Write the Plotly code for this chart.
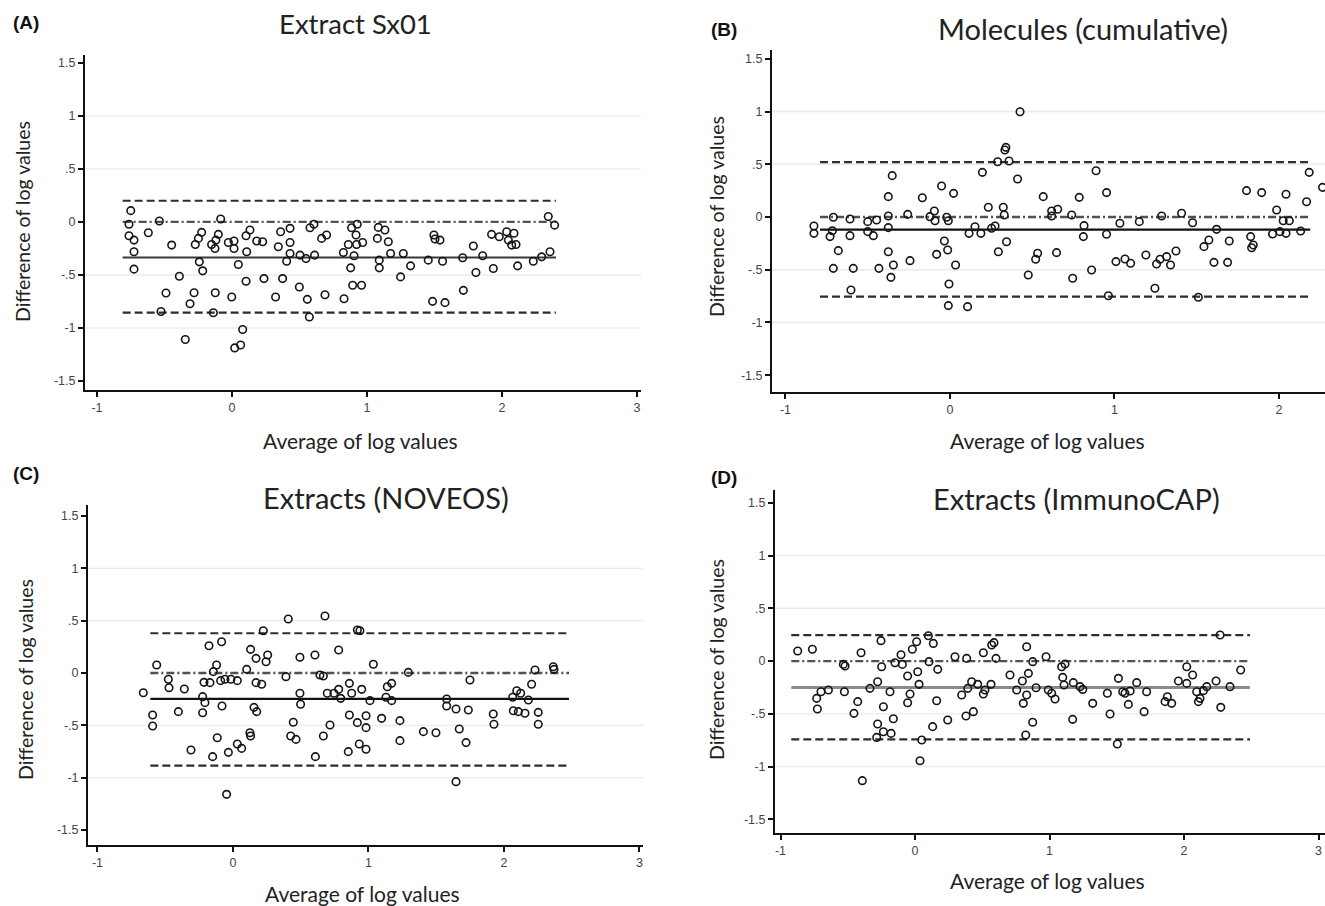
import plotly.graph_objects as go

W, H = 1325, 906

# ---------------- Panel A : Extract Sx01 ----------------
a_avg = [-0.750, -0.763, -0.763, -0.726, -0.726, -0.726, -0.620, -0.538, -0.447, -0.390,
         -0.489, -0.526, -0.346, -0.311, -0.281, -0.272, -0.249, -0.225, -0.242, -0.217,
         -0.151, -0.126, -0.119, -0.101, -0.084, -0.124, -0.138, -0.027, 0.015, 0.015,
         -0.002, 0.047, 0.079, 0.020, 0.064, 0.109, 0.104, 0.104, 0.133, 0.183,
         0.227, 0.237, 0.323, 0.343, 0.360, 0.375, 0.405, 0.430, 0.430, 0.430,
         0.499, 0.504, 0.548, 0.558, 0.573, 0.578, 0.607, 0.612, 0.664, 0.689,
         0.701, 0.825, 0.830, 0.862, 0.879, 0.886, 0.894, 0.904, 0.919, 0.923,
         0.928, 0.960, 0.968, 1.077, 1.084, 1.091, 1.091, 1.133, 1.158, 1.175,
         1.249, 1.269, 1.323, 1.454, 1.486, 1.496, 1.504, 1.541, 1.560, 1.578,
         1.709, 1.714, 1.788, 1.807, 1.857, 1.923, 1.936, 1.980, 2.035, 2.047,
         2.072, 2.089, 2.104, 2.116, 2.232, 2.294, 2.343, 2.356, 2.390]
a_diff = [0.107, -0.022, -0.130, -0.171, -0.281, -0.445, -0.101, 0.009, -0.218, -0.512,
          -0.670, -0.844, -1.109, -0.771, -0.667, -0.212, -0.155, -0.098, -0.376, -0.461,
          -0.212, -0.250, -0.171, -0.117, 0.028, -0.667, -0.856, -0.193, -0.180, -0.250,
          -0.708, -0.401, -1.014, -1.188, -1.160, -0.281, -0.559, -0.130, -0.076, -0.180,
          -0.186, -0.534, -0.708, -0.234, -0.092, -0.534, -0.370, -0.060, -0.193, -0.297,
          -0.613, -0.313, -0.344, -0.730, -0.897, -0.054, -0.022, -0.313, -0.155, -0.686,
          -0.123, -0.288, -0.724, -0.212, -0.433, -0.054, -0.597, -0.319, -0.123, -0.212,
          -0.022, -0.597, -0.193, -0.155, -0.051, -0.360, -0.433, -0.076, -0.186, -0.297,
          -0.518, -0.297, -0.414, -0.360, -0.749, -0.123, -0.161, -0.171, -0.370, -0.761,
          -0.338, -0.645, -0.227, -0.477, -0.319, -0.117, -0.439, -0.139, -0.092, -0.171,
          -0.218, -0.107, -0.212, -0.414, -0.370, -0.329, 0.051, -0.281, -0.030]
a_mean, a_upper, a_lower = -0.335, 0.20, -0.855
a_span = [-0.81, 2.40]

# ---------------- Panel B : Molecules (cumulative) ----------------
b_avg = [-0.827, -0.827, -0.729, -0.709, -0.715, -0.679, -0.709, -0.608, -0.608, -0.588,
         -0.602, -0.500, -0.500, -0.466, -0.446, -0.432, -0.375, -0.351, -0.375, -0.375,
         -0.375, -0.344, -0.359, -0.257, -0.243, -0.168, -0.122, -0.095, -0.091, -0.081,
         -0.051, -0.034, -0.020, -0.010, -0.014, 0.022, 0.034, -0.006, -0.010, 0.107,
         0.116, 0.152, 0.188, 0.197, 0.233, 0.253, 0.274, 0.294, 0.290, 0.324,
         0.330, 0.334, 0.340, 0.344, 0.359, 0.411, 0.426, 0.476, 0.521, 0.533,
         0.567, 0.618, 0.618, 0.648, 0.655, 0.740, 0.746, 0.786, 0.815, 0.811,
         0.861, 0.888, 0.952, 0.952, 0.963, 1.009, 1.033, 1.064, 1.098, 1.151,
         1.191, 1.246, 1.256, 1.277, 1.287, 1.317, 1.341, 1.374, 1.408, 1.475,
         1.510, 1.544, 1.574, 1.605, 1.621, 1.698, 1.688, 1.803, 1.828, 1.834,
         1.844, 1.895, 1.961, 1.986, 2.006, 2.026, 2.043, 2.043, 2.063, 2.132,
         2.168, 2.184, 2.265]
b_diff = [-0.085, -0.155, -0.186, -0.003, -0.130, -0.319, -0.487, -0.019, -0.177, -0.487,
          -0.692, -0.044, -0.139, -0.177, -0.028, -0.487, 0.193, 0.392, 0.009, -0.101,
          -0.329, -0.455, -0.572, 0.025, -0.414, 0.183, 0.003, 0.057, -0.035, -0.354,
          0.294, -0.227, -0.003, -0.035, -0.313, 0.224, -0.455, -0.635, -0.840, -0.850,
          -0.155, -0.092, -0.155, 0.423, 0.092, -0.107, -0.085, -0.329, 0.524, 0.092,
          0.019, 0.635, 0.660, -0.234, 0.531, 0.360, 0.998, -0.550, -0.401, -0.344,
          0.193, 0.057, 0.009, -0.338, 0.073, 0.019, -0.581, 0.186, -0.082, -0.186,
          -0.502, 0.439, 0.231, -0.164, -0.746, -0.423, -0.060, -0.398, -0.439, -0.044,
          -0.360, -0.676, -0.445, -0.401, 0.009, -0.376, -0.455, -0.322, 0.035, -0.054,
          -0.761, -0.281, -0.218, -0.430, -0.117, -0.227, -0.430, 0.250, -0.186, -0.291,
          -0.265, 0.231, -0.161, 0.066, -0.139, -0.035, 0.215, -0.155, -0.035, -0.133,
          0.145, 0.423, 0.281]
b_mean, b_upper, b_lower = -0.12, 0.52, -0.755
b_span = [-0.79, 2.19]

# ---------------- Panel C : Extracts (NOVEOS) ----------------
c_avg = [-0.662, -0.593, -0.593, -0.563, -0.477, -0.472, -0.403, -0.359, -0.310, -0.224,
         -0.214, -0.207, -0.224, -0.177, -0.170, -0.150, -0.145, -0.121, -0.116, -0.084,
         -0.091, -0.081, -0.059, -0.047, -0.034, -0.015, 0.032, 0.032, 0.064, 0.101,
         0.130, 0.125, 0.130, 0.155, 0.175, 0.170, 0.170, 0.212, 0.224, 0.244,
         0.256, 0.391, 0.445, 0.426, 0.465, 0.494, 0.494, 0.499, 0.608, 0.605,
         0.408, 0.679, 0.642, 0.667, 0.667, 0.696, 0.716, 0.745, 0.780, 0.780,
         0.795, 0.851, 0.859, 0.859, 0.918, 0.937, 0.876, 0.950, 0.918, 0.982,
         0.982, 1.011, 0.932, 0.982, 1.036, 1.097, 1.129, 1.139, 1.171, 1.171,
         1.232, 1.232, 1.294, 1.405, 1.498, 1.577, 1.577, 1.646, 1.670, 1.720,
         1.737, 1.749, 1.646, 1.921, 1.926, 2.064, 2.069, 2.094, 2.106, 2.123,
         2.155, 2.180, 2.204, 2.229, 2.253, 2.253, 2.364, 2.369]
c_diff = [-0.188, -0.401, -0.506, 0.076, -0.060, -0.140, -0.369, -0.153, -0.735, -0.226,
          -0.089, -0.283, -0.379, 0.261, -0.092, -0.799, 0.013, 0.076, -0.618, 0.299,
          -0.073, -0.315, -0.060, -1.159, -0.758, -0.060, -0.073, -0.678, -0.720, 0.035,
          0.226, -0.570, -0.602, -0.328, -0.369, 0.140, -0.092, -0.108, 0.404, 0.108,
          0.172, -0.035, -0.471, -0.602, -0.634, 0.150, -0.194, -0.299, -0.799, 0.172,
          0.516, 0.544, -0.019, -0.029, -0.602, -0.194, -0.497, -0.194, -0.156, 0.220,
          -0.242, -0.751, -0.401, -0.099, 0.411, 0.404, -0.194, -0.156, -0.474, -0.408,
          -0.522, -0.264, -0.678, -0.729, 0.083, -0.433, -0.232, -0.131, -0.099, -0.264,
          -0.455, -0.646, 0.006, -0.560, -0.570, -0.248, -0.315, -0.344, -0.535, -0.665,
          -0.353, -0.067, -1.038, -0.392, -0.490, -0.232, -0.360, -0.169, -0.369, -0.194,
          -0.385, -0.258, -0.108, 0.029, -0.376, -0.490, 0.060, 0.035]
c_mean, c_upper, c_lower = -0.248, 0.38, -0.885
c_span = [-0.61, 2.48]

# ---------------- Panel D : Extracts (ImmunoCAP) ----------------
d_avg = [-0.872, -0.763, -0.731, -0.726, -0.699, -0.644, -0.533, -0.520, -0.525, -0.454,
         -0.426, -0.401, -0.392, -0.335, -0.278, -0.278, -0.285, -0.253, -0.248, -0.235,
         -0.235, -0.178, -0.186, -0.161, -0.149, -0.104, -0.094, -0.055, -0.055, -0.037,
         -0.020, 0.012, 0.020, 0.030, 0.037, 0.050, 0.099, 0.104, 0.136, 0.131,
         0.161, 0.169, 0.243, 0.297, 0.347, 0.384, 0.379, 0.392, 0.421, 0.434,
         0.466, 0.508, 0.508, 0.520, 0.565, 0.570, 0.587, 0.602, 0.706, 0.756,
         0.798, 0.805, 0.823, 0.830, 0.830, 0.843, 0.875, 0.900, 0.875, 0.974,
         0.991, 1.016, 1.041, 1.090, 1.115, 1.098, 1.108, 1.172, 1.177, 1.227,
         1.247, 1.321, 1.430, 1.450, 1.512, 1.544, 1.561, 1.586, 1.599, 1.648,
         1.703, 1.722, 1.504, 1.859, 1.876, 1.908, 1.958, 2.020, 2.064, 2.020,
         2.094, 2.107, 2.119, 2.144, 2.169, 2.238, 2.273, 2.268, 2.342, 2.421]
d_diff = [0.095, 0.111, -0.354, -0.455, -0.291, -0.275, -0.032, -0.047, -0.291, -0.496,
          -0.385, 0.079, -1.134, -0.259, -0.196, -0.597, -0.724, 0.193, -0.054, -0.433,
          -0.670, -0.686, -0.291, -0.547, -0.016, 0.060, -0.032, -0.142, -0.395, -0.313,
          0.111, 0.183, -0.101, -0.221, -0.945, -0.749, 0.240, -0.006, 0.167, -0.622,
          -0.376, -0.079, -0.559, 0.041, -0.322, 0.025, -0.521, -0.259, -0.196, -0.480,
          -0.221, 0.079, -0.313, -0.275, -0.221, 0.152, 0.174, 0.025, -0.133, -0.275,
          -0.190, -0.401, -0.701, 0.136, -0.322, -0.117, -0.006, -0.253, -0.581, 0.041,
          -0.275, -0.306, -0.360, -0.054, -0.028, -0.155, -0.227, -0.553, -0.205, -0.243,
          -0.269, -0.401, -0.306, -0.502, -0.164, -0.291, -0.306, -0.411, -0.284, -0.205,
          -0.480, -0.291, -0.787, -0.385, -0.338, -0.401, -0.190, -0.054, -0.133, -0.212,
          -0.291, -0.385, -0.354, -0.281, -0.243, -0.190, -0.439, 0.246, -0.243, -0.085]
d_mean, d_upper, d_lower = -0.25, 0.246, -0.742
d_span = [-0.92, 2.49]

titles = ["Extract Sx01", "Molecules (cumulative)", "Extracts (NOVEOS)", "Extracts (ImmunoCAP)"]
letters = ["(A)", "(B)", "(C)", "(D)"]
y_title = "Difference of log values"
x_title = "Average of log values"
y_tickvals = [-1.5, -1, -0.5, 0, 0.5, 1, 1.5]
y_ticktext = ["-1.5", "-1", "-.5", "0", ".5", "1", "1.5"]
x_tickvals = [-1, 0, 1, 2, 3]
x_ticktext = ["-1", "0", "1", "2", "3"]
grid_vals = [-1, -0.5, 0.5, 1]

# layout geometry (pixels): left, right, top, bottom, xrange, yrange
panels = [
    dict(data=(a_avg, a_diff), lines=(a_mean, a_upper, a_lower), span=a_span,
         box=(85, 641, 55, 390), xr=[-1.089, 3.03], yr=[-1.585, 1.575], mean_color="#3a3a3a", mean_w=2.2,
         title_xy=(356, 23), title_size=27.5, letter_xy=(26, 22), ytitle_xy=(22, 222), xtitle_xy=(361, 441)),
    dict(data=(b_avg, b_diff), lines=(b_mean, b_upper, b_lower), span=b_span,
         box=(772, 1325, 50, 392), xr=[-1.082, 2.280], yr=[-1.659, 1.583], mean_color="#111111", mean_w=2.2,
         title_xy=(1083, 28), title_size=29, letter_xy=(724, 30), ytitle_xy=(716, 217), xtitle_xy=(1047, 441)),
    dict(data=(c_avg, c_diff), lines=(c_mean, c_upper, c_lower), span=c_span,
         box=(88, 643, 505, 845), xr=[-1.070, 3.026], yr=[-1.643, 1.605], mean_color="#111111", mean_w=2.2,
         title_xy=(386, 497), title_size=29, letter_xy=(26, 473), ytitle_xy=(25, 680), xtitle_xy=(362, 893)),
    dict(data=(d_avg, d_diff), lines=(d_mean, d_upper, d_lower), span=d_span,
         box=(775, 1325, 490, 833), xr=[-1.041, 3.048], yr=[-1.630, 1.621], mean_color="#8a8a8a", mean_w=3,
         title_xy=(1076, 498), title_size=29, letter_xy=(724, 477), ytitle_xy=(716, 660), xtitle_xy=(1047, 880)),
]

fig = go.Figure()
layout = dict(width=W, height=H, margin=dict(l=0, r=0, t=0, b=0), showlegend=False,
              paper_bgcolor="white", plot_bgcolor="white")
annotations = []
shapes = []

def px2x(px):
    return px / W

def py2y(py):
    return 1 - py / H

tick_font = dict(family="Liberation Sans, Arial", size=12.5, color="#444")

for i, p in enumerate(panels, start=1):
    xa = "x" if i == 1 else f"x{i}"
    ya = "y" if i == 1 else f"y{i}"
    xkey = "xaxis" if i == 1 else f"xaxis{i}"
    ykey = "yaxis" if i == 1 else f"yaxis{i}"
    l, r, t, b = p["box"]
    layout[xkey] = dict(domain=[px2x(l), px2x(r)], range=p["xr"], anchor=ya,
                        tickvals=x_tickvals, ticktext=x_ticktext, ticks="outside", ticklen=5,
                        tickwidth=1.5, tickcolor="#111", showline=True, linewidth=2, linecolor="#111",
                        showgrid=False, zeroline=False, tickfont=tick_font)
    layout[ykey] = dict(domain=[py2y(b), py2y(t)], range=p["yr"], anchor=xa,
                        tickvals=y_tickvals, ticktext=y_ticktext, ticks="outside", ticklen=5,
                        tickwidth=1.5, tickcolor="#111", showline=True, linewidth=2, linecolor="#111",
                        showgrid=False, zeroline=False, tickfont=tick_font)
    for g in grid_vals:
        shapes.append(dict(type="line", xref=f"{xa} domain", yref=ya, x0=0, x1=1, y0=g, y1=g,
                           line=dict(color="#ebebeb", width=1.3), layer="below"))
    mean, upper, lower = p["lines"]
    span = p["span"]
    for val, dash, col, w in [(upper, "8px,4px", "#2e2e2e", 2.2), (lower, "8px,4px", "#2e2e2e", 2.2),
                              (0, "8px,3px,2px,3px", "#505050", 2.3),
                              (mean, "solid", p["mean_color"], p["mean_w"])]:
        fig.add_trace(go.Scatter(x=span, y=[val, val], mode="lines", xaxis=xa, yaxis=ya,
                                 line=dict(color=col, width=w, dash=dash), hoverinfo="skip"))
    xs, ys = p["data"]
    fig.add_trace(go.Scatter(x=xs, y=ys, mode="markers", xaxis=xa, yaxis=ya,
                             marker=dict(symbol="circle-open", size=7.5, color="#151515",
                                         line=dict(width=1.6, color="#151515"))))
    tx, ty = p["title_xy"]
    annotations.append(dict(text=titles[i - 1], x=px2x(tx), y=py2y(ty), xref="paper", yref="paper",
                            showarrow=False, xanchor="center", yanchor="middle",
                            font=dict(family="Lato, Open Sans", size=p["title_size"], color="#222")))
    lx, ly = p["letter_xy"]
    annotations.append(dict(text=f"<b>{letters[i-1]}</b>", x=px2x(lx), y=py2y(ly), xref="paper", yref="paper",
                            showarrow=False, xanchor="center", yanchor="middle",
                            font=dict(family="Liberation Sans, Arial", size=19, color="#111")))
    yx, yy = p["ytitle_xy"]
    annotations.append(dict(text=y_title, x=px2x(yx), y=py2y(yy), xref="paper", yref="paper",
                            showarrow=False, xanchor="center", yanchor="middle", textangle=-90,
                            font=dict(family="Lato, Open Sans", size=19.5, color="#222")))
    xx, xy = p["xtitle_xy"]
    annotations.append(dict(text=x_title, x=px2x(xx), y=py2y(xy), xref="paper", yref="paper",
                            showarrow=False, xanchor="center", yanchor="middle",
                            font=dict(family="Lato, Open Sans", size=21, color="#222")))

layout["annotations"] = annotations
layout["shapes"] = shapes
fig.update_layout(**layout)
fig.write_html("out.html", config={"displayModeBar": False},
               post_script="document.body.style.margin='0';document.body.style.overflow='hidden';")
